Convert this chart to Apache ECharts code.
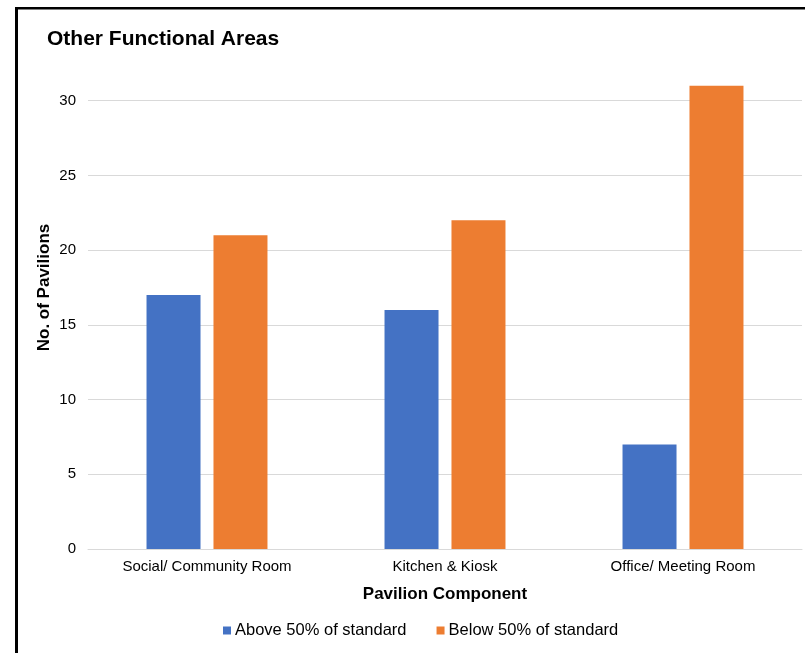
<!DOCTYPE html>
<html><head><meta charset="utf-8">
<script src="https://cdn.jsdelivr.net/npm/echarts@6/dist/echarts.min.js"></script>
<style>html,body{margin:0;padding:0;background:#fff}#c{width:805px;height:653px}</style>
</head><body><div id="c"></div>
<script>
const categories = ['Social/ Community Room', 'Kitchen & Kiosk', 'Office/ Meeting Room'];
const seriesNames = ['Above 50% of standard', 'Below 50% of standard'];
const aboveValues = [17, 16, 7];
const belowValues = [21, 22, 31];
const yTicks = [0, 5, 10, 15, 20, 25, 30];

const font = '"Liberation Sans", Arial, Helvetica, sans-serif';
const chart = echarts.init(document.getElementById('c'), null, {renderer: 'canvas'});
const gridColors = yTicks.map(() => '#d9d9d9').concat(['rgba(0,0,0,0)']);
chart.setOption({
  animation: false,
  textStyle: {fontFamily: font},
  title: {text: 'Other Functional Areas', left: 42, top: 24,
    textStyle: {fontFamily: font, fontSize: 21, fontWeight: 'bold', color: '#000'}},
  legend: {bottom: 9, left: 218, itemWidth: 8, itemHeight: 8, itemGap: 30,
    icon: 'rect', textStyle: {fontFamily: font, fontSize: 16.5, color: '#000', padding: [0,0,0,-1]},
    data: seriesNames},
  grid: {left: 88, width: 714, top: 26, bottom: 104, containLabel: false},
  xAxis: {type: 'category', data: categories,
    axisLine: {lineStyle: {color: '#d9d9d9', width: 1}}, axisTick: {show: false},
    axisLabel: {fontFamily: font, fontSize: 15, color: '#000', margin: 10},
    name: 'Pavilion Component', nameLocation: 'middle', nameGap: 37, nameMoveOverlap: false,
    nameTextStyle: {fontFamily: font, fontSize: 17, fontWeight: 'bold', color: '#000'}},
  yAxis: {type: 'value', min: 0, max: 35, interval: 5,
    axisLine: {show: false}, axisTick: {show: false},
    axisLabel: {fontFamily: font, fontSize: 15, color: '#000', margin: 12,
      formatter: v => yTicks.indexOf(v) >= 0 ? String(v) : ''},
    splitLine: {lineStyle: {color: gridColors, width: 1}},
    name: 'No. of Pavilions', nameLocation: 'middle', nameGap: 35, nameRotate: 90, nameMoveOverlap: false,
    nameTextStyle: {fontFamily: font, fontSize: 17, fontWeight: 'bold', color: '#000'}},
  series: [
    {name: seriesNames[0], type: 'bar', data: aboveValues, barWidth: 54, barGap: '24%',
      itemStyle: {color: '#4472C4'}},
    {name: seriesNames[1], type: 'bar', data: belowValues, barWidth: 54, barGap: '24%',
      itemStyle: {color: '#ED7D31'}}
  ],
  graphic: [
    {type: 'rect', shape: {x: 15, y: 7, width: 790, height: 2.5}, style: {fill: '#000'}, silent: true},
    {type: 'rect', shape: {x: 15, y: 7, width: 3, height: 646}, style: {fill: '#000'}, silent: true}
  ]
});
</script></body></html>
